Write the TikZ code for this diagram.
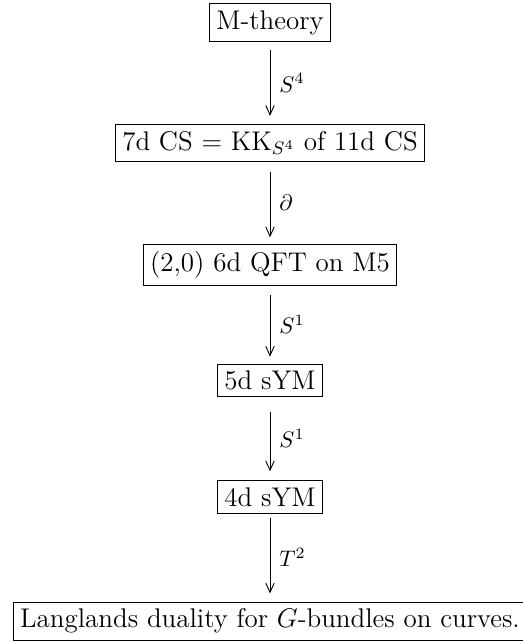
\documentclass[12pt,tikz,border=0pt]{standalone}
\usepackage{amsmath,amssymb}
\usetikzlibrary{arrows.meta,positioning}

\begin{document}
\begin{tikzpicture}[x=0.015625cm,y=-0.015625cm,
  box/.style={draw, inner sep=3pt, line width=0.4pt},
  map/.style={-{Straight Barb[length=4.2pt,width=3.8pt]}, line width=0.4pt},
  lab/.style={right, font=\footnotesize}]
\useasboundingbox (0,0) rectangle (522,643);
% Chain of theories
\node[box] (mth) at (270,22.5) {M-theory};
\node[box] (cs7) at (270,143) {7d CS $=$ KK$_{S^4}$ of 11d CS};
\node[box] (qft6) at (270,265) {(2,0) 6d QFT on M5};
\node[box] (sym5) at (270,380.5) {5d sYM};
\node[box] (sym4) at (270,497) {4d sYM};
\node[box] (lang) at (270,621) {Langlands duality for $G$-bundles on curves.};
% Reductions between them
\foreach \a/\b/\l/\s/\t in {mth/cs7/S^4/3.6/3.6, cs7/qft6/\partial/4.4/3.1,
  qft6/sym5/S^1/4/3.1, sym5/sym4/S^1/6.7/4, sym4/lang/T^2/1.8/3.6} {
  \draw[map, shorten <=\s pt, shorten >=\t pt] (\a) -- node[lab] {$\l$} (\b);
}
\end{tikzpicture}
\end{document}
